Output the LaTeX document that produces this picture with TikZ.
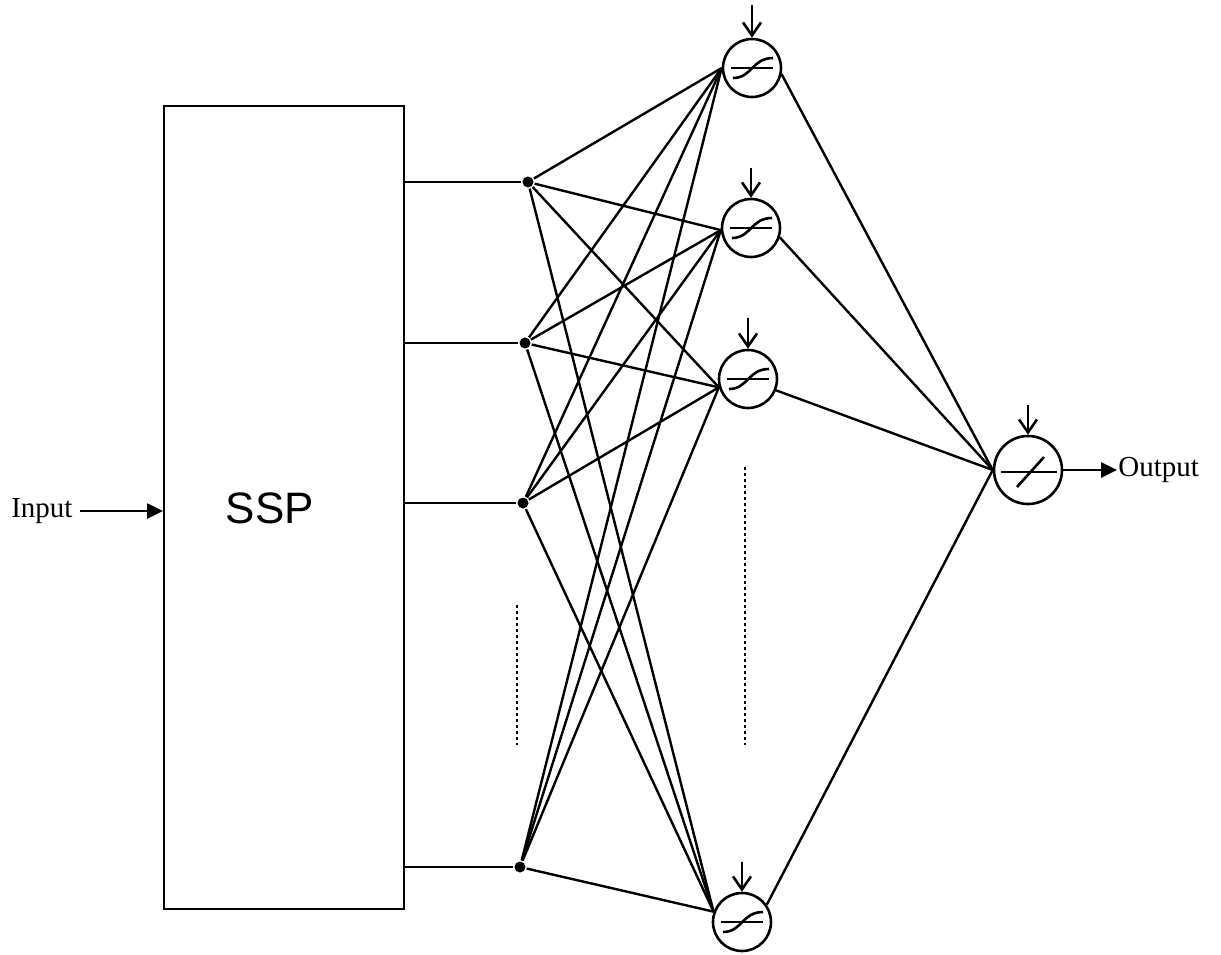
\documentclass[tikz,border=0pt]{standalone}
\usepackage{fontspec}
\setmainfont{Liberation Serif}
\newfontfamily\sspfont{Liberation Sans}
\usetikzlibrary{arrows.meta}
\tikzset{
  neuron/.style={circle, draw, minimum size=58pt, inner sep=0pt},
  outneuron/.style={circle, draw, minimum size=68pt, inner sep=0pt},
  junction/.style={circle, fill, minimum size=11pt, inner sep=0pt},
  bias/.style={-{Straight Barb[length=13pt,width=18pt]}},
  sigarrow/.style={-{Triangle[length=16pt,width=15pt]}},
  lbl/.style={font=\fontsize{29}{34}\selectfont, inner sep=0pt},
  dotline/.style={line width=2.6pt, dash pattern=on 2.6pt off 3.4pt},
  link/.style={line width=2.4pt},
  sigmoid/.pic={
    \draw (-21,0) -- (21,0);
    \draw (-19,10) .. controls (0,10) and (0,-10) .. (21,-10);
  },
  linear/.pic={
    \draw (-27,2) -- (29,2);
    \draw (-11,17) -- (16,-13);
  }
}
\begin{document}
\begin{tikzpicture}[x=1pt,y=-1pt,line width=2.6pt]
\useasboundingbox (0,0) rectangle (1221,955);

% SSP block
\node[draw, line width=2.2pt, minimum width=240pt, minimum height=803pt, anchor=north west, inner sep=0pt] (ssp) at (163,105) {};
\node[font=\sspfont\fontsize{44}{50}\selectfont, inner sep=0pt] (ssplabel) at (270,508) {SSP};

% input
\node[lbl, anchor=west] (inlabel) at (10,511) {Input};
\draw[sigarrow] ([xshift=6pt]inlabel.east) -- (ssp.west |- inlabel.east);

% junctions
\node[junction] (d1) at (528,182) {};
\node[junction] (d2) at (525,343) {};
\node[junction] (d3) at (523,503) {};
\node[junction] (d4) at (520,867) {};
\foreach \d in {d1,d2,d3,d4} \draw (ssp.east |- \d) -- (\d);

% hidden neurons
\node[neuron] (n1) at (752,68) {};
\node[neuron] (n2) at (751,228) {};
\node[neuron] (n3) at (748,379) {};
\node[neuron] (n4) at (742,922) {};
\foreach \n in {n1,n2,n3,n4} \pic at (\n) {sigmoid};

% output neuron
\node[outneuron] (o) at (1028,470) {};
\pic at (o) {linear};

% bias arrows
\coordinate (b1) at (752,5);
\coordinate (b2) at (751,168);
\coordinate (b3) at (748,318);
\coordinate (b4) at (742,862);
\coordinate (bo) at (1028,405);
\draw[bias] (b1) -- (n1);
\draw[bias] (b2) -- (n2);
\draw[bias] (b3) -- (n3);
\draw[bias] (b4) -- (n4);
\draw[bias] (bo) -- (o);

% connections input layer -> hidden
\foreach \d in {d1,d2,d3,d4}
  \foreach \n/\a in {n1/180,n2/184,n3/196,n4/160}
    \draw[link] (\d) -- (\n.\a);

% hidden -> output
\draw[link] (n1.-12) -- (o.180);
\draw[link] (n2.-18) -- (o.180);
\draw[link] (n3.-22) -- (o.180);
\draw[link] (n4.35) -- (o.180);

% output
\node[lbl, anchor=west] (outlabel) at (1117,470) {Output};
\draw[sigarrow] (o.east) -- (o.east -| outlabel.west);

% ellipsis dots
\coordinate (e1) at (517,605);
\coordinate (e2) at (517,745);
\coordinate (e3) at (745,467);
\coordinate (e4) at (745,745);
\draw[dotline] (e1) -- (e2);
\draw[dotline] (e3) -- (e4);
\end{tikzpicture}
\end{document}
